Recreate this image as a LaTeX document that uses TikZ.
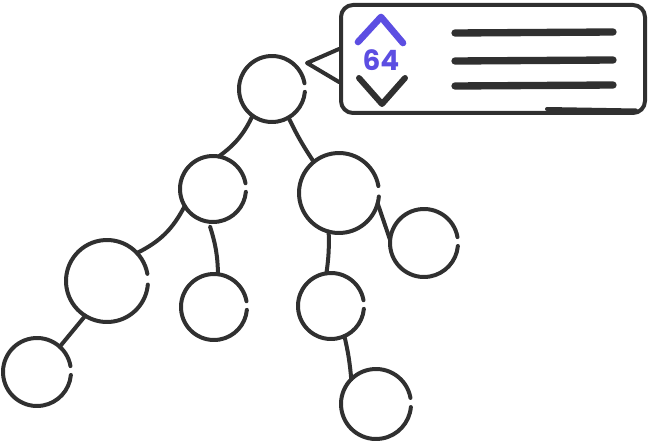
\documentclass[tikz,border=0pt]{standalone}
\usepackage{fontspec}
\newfontfamily\handfont{Poppins}
\definecolor{ink}{RGB}{48,48,48}
\definecolor{violet}{RGB}{92,78,226}
\tikzset{
  treenode/.style={circle,draw=none,inner sep=0pt,outer sep=0pt},
  ringline/.style={draw=ink,line width=3pt,line cap=round},
  edgeline/.style={draw=ink,line width=3pt,line cap=round},
  boxline/.style={draw=ink,line width=3pt,line cap=round,line join=round},
  barline/.style={draw=ink,line width=5.5pt,line cap=round},
}
\newcommand\placering[4]{%
  \node[treenode,minimum size=#4*1.5pt] (#1) at (#2,#3) {};
  \draw[ringline] (#1.10) arc[start angle=10,end angle=355,radius=#4];
}
\begin{document}
\begin{tikzpicture}[x=0.75pt,y=0.75pt]
\useasboundingbox (0,0) rectangle (650,440);
% tree nodes
\placering{root}{272}{351}{33}
\placering{na}{213}{251}{33}
\placering{nb}{339}{247}{40}
\placering{nc}{107}{159}{41}
\placering{nd}{214}{133}{33}
\placering{ne}{37}{68}{34}
\placering{nf}{424}{197}{34}
\placering{ng}{331}{134}{33}
\placering{nh}{376}{36}{35}
% edges
\draw[edgeline] (root.-126) to[bend left=14] (na.80);
\draw[edgeline] (root.-60) to[bend right=4] (nb.129);
\draw[edgeline] (na.-149) to[bend left=18] (nc.43);
\draw[edgeline] ([shift={(0,-5)}]na.-95) to[bend left=8] (nd.83);
\draw[edgeline] (nb.-105) to[bend left=5] (ng.98);
\draw[edgeline] (nb.-15) -- (nf.175);
\draw[edgeline] (ng.-66) to[bend left=4] (nh.135);
\draw[edgeline] (nc.-122) -- (ne.48);
% callout box
\node[boxline,draw,rounded corners=9pt,minimum width=228pt,minimum height=81pt,inner sep=0pt] (callout) at (493,381) {};
\coordinate (tailtop) at ([shift={(0,10)}]callout.west);
\coordinate (tailtip) at ([shift={(-32,-4)}]callout.west);
\coordinate (tailbot) at ([shift={(0,-23)}]callout.west);
\draw[boxline] (tailtop) -- (tailtip) -- (tailbot);
\draw[boxline] (547,331) -- (636,329.5);
% text bars
\draw[barline] (455,407) -- (613,408);
\draw[barline] (455,379) -- (613,380);
\draw[barline] (455,354) -- (613,355);
% chevrons
\draw[violet,line width=5pt,line cap=round,line join=round] (358,398) -- (381,423) -- (403,397);
\draw[ink,line width=4.5pt,line cap=round,line join=round] (359,362) -- (382,336) -- (405,362);
\node[text=violet,font=\handfont\bfseries\fontsize{21}{21}\selectfont,inner sep=0pt] (val) at (381,380) {64};
\end{tikzpicture}
\end{document}
